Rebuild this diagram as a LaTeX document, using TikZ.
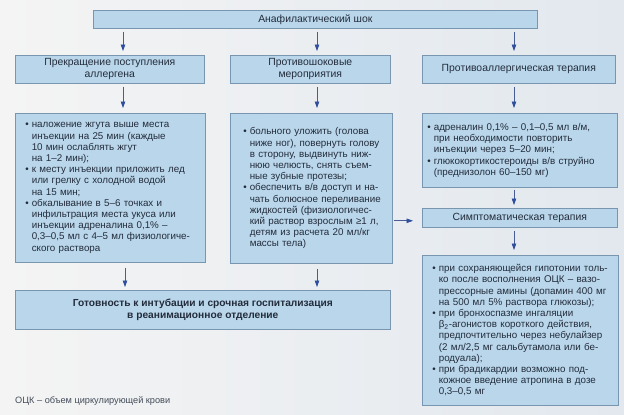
\documentclass[tikz,border=0pt]{standalone}
\usepackage{fontspec}
\setmainfont{Liberation Sans}
\usetikzlibrary{arrows.meta}
\definecolor{bxfill}{RGB}{186,214,234}
\definecolor{bxline}{RGB}{120,150,176}
\definecolor{txt}{RGB}{34,44,60}
\definecolor{arrc}{RGB}{48,78,158}
\definecolor{bgl}{RGB}{244,244,244}
\definecolor{bgr}{RGB}{226,232,238}
\newcommand\bl[1]{\mbox{\makebox[6.5pt][l]{\textbullet}#1}}
\newcommand\cl[1]{\mbox{\hspace*{6.5pt}#1}}
\begin{document}
\begin{tikzpicture}[x=1pt,y=-1pt,
  bx/.style={draw=bxline, line width=0.6pt, fill=bxfill, inner sep=0pt,
    anchor=north west, text=txt, font=\fontsize{9.8}{11.2}\selectfont},
  hdr/.style={bx, align=center, font=\fontsize{10.4}{12}\selectfont},
  det/.style={bx, align=left},
  arr/.style={draw=arrc!70!gray, line width=0.7pt,
    -{Triangle[length=6.5pt,width=4.5pt,color=arrc]},
    shorten <=3pt, shorten >=4pt}
]
\useasboundingbox (0,0) rectangle (624,415);
\shade[left color=bgl, right color=bgr] (0,0) rectangle (624,415);

\coordinate (a1) at (123,0);
\coordinate (a2) at (317,0);
\coordinate (a3) at (514,0);
\coordinate (b1) at (125,0);

\node[hdr, minimum width=444pt, minimum height=18pt] (top) at (93,10) {Анафилактический шок};

\node[hdr, minimum width=189pt, minimum height=28pt] (h1) at (15,55)
  {Прекращение поступления\\аллергена};
\node[hdr, minimum width=160pt, minimum height=28pt] (h2) at (230,55)
  {Противошоковые\\мероприятия};
\node[hdr, minimum width=193pt, minimum height=28pt] (h3) at (422,55)
  {Противоаллергическая терапия};

\node[det, inner xsep=10pt, text width=170pt, minimum height=149pt] (d1) at (15,113)
  {\bl{наложение жгута выше места}\\
   \cl{инъекции на 25 мин (каждые}\\
   \cl{10 мин ослаблять жгут}\\
   \cl{на 1–2 мин);}\\
   \bl{к месту инъекции приложить лед}\\
   \cl{или грелку с холодной водой}\\
   \cl{на 15 мин;}\\
   \bl{обкалывание в 5–6 точках и}\\
   \cl{инфильтрация места укуса или}\\
   \cl{инъекции адреналина 0,1\% –}\\
   \cl{0,3–0,5 мл с 4–5 мл физиологиче-}\\
   \cl{ского раствора}};

\node[det, inner xsep=13pt, text width=136pt, minimum height=150pt] (d2) at (230,113)
  {\bl{больного уложить (голова}\\
   \cl{ниже ног), повернуть голову}\\
   \cl{в сторону, выдвинуть ниж-}\\
   \cl{нюю челюсть, снять съем-}\\
   \cl{ные зубные протезы;}\\
   \bl{обеспечить в/в доступ и на-}\\
   \cl{чать болюсное переливание}\\
   \cl{жидкостей (физиологичес-}\\
   \cl{кий раствор взрослым ≥1 л,}\\
   \cl{детям из расчета 20 мл/кг}\\
   \cl{массы тела)}};

\node[det, inner xsep=5pt, text width=185pt, minimum height=74pt] (d3) at (422,113)
  {\bl{адреналин 0,1\% – 0,1–0,5 мл в/м,}\\
   \cl{при необходимости повторить}\\
   \cl{инъекции через 5–20 мин;}\\
   \bl{глюкокортикостероиды в/в струйно}\\
   \cl{(преднизолон 60–150 мг)}};

\node[hdr, minimum width=195pt, minimum height=19pt] (sym) at (422,208)
  {Симптоматическая терапия};

\node[det, inner xsep=10pt, text width=176pt, minimum height=150pt] (sd) at (422,255)
  {\bl{при сохраняющейся гипотонии толь-}\\
   \cl{ко после восполнения ОЦК – вазо-}\\
   \cl{прессорные амины (допамин 400 мг}\\
   \cl{на 500 мл 5\% раствора глюкозы);}\\
   \bl{при бронхоспазме ингаляции}\\
   \cl{β\textsubscript{2}-агонистов короткого действия,}\\
   \cl{предпочтительно через небулайзер}\\
   \cl{(2 мл/2,5 мг сальбутамола или бе-}\\
   \cl{родуала);}\\
   \bl{при брадикардии возможно под-}\\
   \cl{кожное введение атропина в дозе}\\
   \cl{0,3–0,5 мг}};

\node[hdr, minimum width=375pt, minimum height=39pt, font=\fontsize{10.2}{12}\selectfont\bfseries] (bot) at (15,290)
  {Готовность к интубации и срочная госпитализация\\в реанимационное отделение};

\node[anchor=base west, inner sep=0pt, text=txt!85, font=\fontsize{9.2}{10}\selectfont] (fn) at (15,403)
  {ОЦК – объем циркулирующей крови};

\draw[arr] (top.south -| a1) -- (h1.north -| a1);
\draw[arr] (top.south -| a2) -- (h2.north -| a2);
\draw[arr] (top.south -| a3) -- (h3.north -| a3);
\draw[arr, shorten >=5pt] (h1.south -| a1) -- (d1.north -| a1);
\draw[arr, shorten >=5pt] (h2.south -| a2) -- (d2.north -| a2);
\draw[arr, shorten >=5pt] (h3.south -| a3) -- (d3.north -| a3);
\draw[arr, shorten <=5pt, shorten >=3pt] (d1.south -| b1) -- (bot.north -| b1);
\draw[arr, shorten <=5pt, shorten >=3pt] (d2.south -| a2) -- (bot.north -| a2);
\draw[arr, shorten <=2pt, shorten >=3pt] (d3.south -| a3) -- (sym.north -| a3);
\draw[arr, shorten >=5pt] (sym.south -| a3) -- (sd.north -| a3);
\draw[arr, shorten <=1pt, shorten >=9pt] ([yshift=-3pt]sym.west -| d2.east) -- ([yshift=-3pt]sym.west);
\end{tikzpicture}
\end{document}
